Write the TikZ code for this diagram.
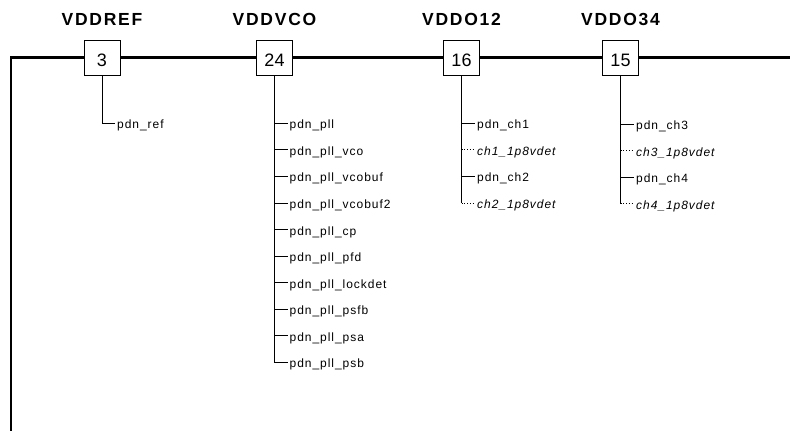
\documentclass[tikz,border=0pt]{standalone}
\usepackage{fontspec}
\setmainfont{Liberation Sans}
\newfontfamily\railfont[LetterSpace=10]{Liberation Sans}
\newfontfamily\tapfont[LetterSpace=8]{Liberation Sans}
\usetikzlibrary{positioning}

\tikzset{
  rail/.style={line width=2.6pt},
  pinbox/.style={draw, line width=0.9pt, fill=white, minimum width=36pt, minimum height=35pt,
    inner sep=0pt, text height=17.6pt, text depth=0pt, font=\fontsize{18}{20}\selectfont},
  supply/.style={anchor=base, inner sep=0pt, font=\railfont\fontsize{17.5}{20}\selectfont\bfseries},
  tap/.style={anchor=west, inner sep=2pt, text height=11pt, text depth=0pt,
    font=\tapfont\fontsize{12}{14}\selectfont},
  dettap/.style={tap, font=\tapfont\fontsize{12}{14}\selectfont\itshape},
  branch/.style={line width=0.8pt},
}

\begin{document}
\begin{tikzpicture}[x=1pt, y=-1pt]
  \useasboundingbox (0,0) rectangle (790,431);

  % pins on the supply rail
  \node[pinbox] (b3)  at (102,57.5)   {3};
  \node[pinbox] (b24) at (274.5,57.5) {24};
  \node[pinbox] (b16) at (461.5,57.5) {16};
  \node[pinbox] (b15) at (620.5,57.5) {15};

  \node[supply] (lref) at (102,25)   {VDDREF};
  \node[supply] (lvco) at (274.5,25) {VDDVCO};
  \node[supply] (lo12) at (461.5,25) {VDDO12};
  \node[supply] (lo34) at (620.5,25) {VDDO34};

  \coordinate (sw) at (11,431);
  \coordinate (nw) at (11,57.5);
  \coordinate (ne) at (790,57.5);
  \draw[rail] (sw) -- (nw) -- (b3.west) (b3.east) -- (b24.west) (b24.east) -- (b16.west)
    (b16.east) -- (b15.west) (b15.east) -- (ne);

  % VDDREF
  \node[tap] (r0) at (115,123.3) {pdn\_ref};
  \draw[branch] (b3.south) |- (r0.west);

  % VDDVCO
  \foreach \t [count=\i from 0] in {pdn\_pll, pdn\_pll\_vco, pdn\_pll\_vcobuf, pdn\_pll\_vcobuf2,
      pdn\_pll\_cp, pdn\_pll\_pfd, pdn\_pll\_lockdet, pdn\_pll\_psfb, pdn\_pll\_psa, pdn\_pll\_psb}
    \node[tap] (v\i) at (287.5,{123.3+26.57*\i}) {\t};
  \draw[branch] (b24.south) |- (v9.west);
  \foreach \i in {0,...,8}
    \draw[branch] (b24.south |- v\i.west) -- (v\i.west);

  % VDDO12 and VDDO34
  \foreach \s/\l/\t [count=\i from 0] in {tap/solid/pdn\_ch1, dettap/dotted/ch1\_1p8vdet,
      tap/solid/pdn\_ch2, dettap/dotted/ch2\_1p8vdet}
  {
    \node[\s] (p\i) at (475,{123.3+26.57*\i}) {\t};
    \draw[branch, \l] (b16.south |- p\i.west) -- (p\i.west);
  }
  \draw[branch] (b16.south) -- (b16.south |- p3.west);

  \foreach \s/\l/\t [count=\i from 0] in {tap/solid/pdn\_ch3, dettap/dotted/ch3\_1p8vdet,
      tap/solid/pdn\_ch4, dettap/dotted/ch4\_1p8vdet}
  {
    \node[\s] (q\i) at (634,{124+26.57*\i}) {\t};
    \draw[branch, \l] (b15.south |- q\i.west) -- (q\i.west);
  }
  \draw[branch] (b15.south) -- (b15.south |- q3.west);
\end{tikzpicture}
\end{document}
